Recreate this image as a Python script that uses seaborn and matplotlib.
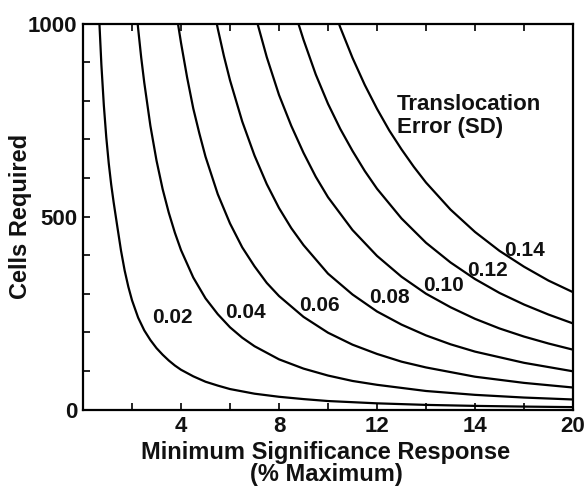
import matplotlib
matplotlib.use("Agg")
import matplotlib.pyplot as plt
import seaborn as sns
import pandas as pd

# ---- data ----
sd_labels = ["0.02", "0.04", "0.06", "0.08", "0.10", "0.12", "0.14"]

x_002 = [0.6, 0.67, 0.75, 0.85, 0.95, 1.05, 1.15, 1.25, 1.4, 1.55, 1.7, 1.85, 2.0, 2.25, 2.5, 2.75, 3.0, 3.25, 3.5, 3.75, 4.0, 4.5, 5.0, 5.5, 6.0, 7.0, 8.0, 9.0, 10.0, 12.0, 14.0, 16.0, 18.0, 20.0]
n_002 = [1110, 1000, 893, 788, 705, 638, 583, 537, 474, 412, 360, 318, 283, 238, 205, 180, 159, 142, 127, 114, 103, 86, 72, 62, 53, 41, 33, 27, 22, 16, 12, 9.4, 7.6, 6.2]

x_004 = [2.0, 2.125, 2.25, 2.375, 2.5, 2.75, 3.0, 3.25, 3.5, 3.75, 4.0, 4.5, 5.0, 5.5, 6.0, 6.5, 7.0, 8.0, 9.0, 10.0, 11.0, 12.0, 14.0, 16.0, 18.0, 20.0]
n_004 = [1168, 1071, 987, 912, 847, 735, 645, 571, 510, 458, 413, 342, 288, 247, 213, 186, 164, 130, 106, 88, 74, 64, 48, 38, 31, 26]

x_006 = [3.5, 3.75, 4.0, 4.25, 4.5, 4.75, 5.0, 5.5, 6.0, 6.5, 7.0, 7.5, 8.0, 9.0, 10.0, 11.0, 12.0, 13.0, 14.0, 16.0, 18.0, 20.0]
n_006 = [1170, 1050, 950, 860, 780, 715, 655, 558, 482, 420, 371, 328, 294, 240, 199, 168, 144, 124, 109, 85, 69, 57]

x_008 = [5.0, 5.25, 5.5, 5.75, 6.0, 6.5, 7.0, 7.5, 8.0, 8.5, 9.0, 10.0, 11.0, 12.0, 13.0, 14.0, 15.0, 16.0, 18.0, 20.0]
n_008 = [1154, 1066, 987, 916, 853, 746, 658, 584, 522, 470, 426, 352, 298, 254, 220, 192, 169, 150, 121, 99]

x_010 = [6.5, 6.75, 7.0, 7.5, 8.0, 8.5, 9.0, 9.5, 10.0, 11.0, 12.0, 13.0, 14.0, 15.0, 16.0, 17.0, 18.0, 19.0, 20.0]
n_010 = [1165, 1093, 1028, 913, 815, 735, 665, 603, 550, 465, 398, 344, 300, 265, 235, 210, 189, 171, 155]

x_012 = [8.0, 8.5, 9.0, 9.5, 10.0, 10.5, 11.0, 11.5, 12.0, 13.0, 14.0, 15.0, 16.0, 17.0, 18.0, 19.0, 20.0]
n_012 = [1174, 1058, 958, 868, 792, 727, 670, 618, 572, 495, 432, 381, 338, 302, 272, 246, 223]

x_014 = [9.5, 10.0, 10.5, 11.0, 11.5, 12.0, 12.5, 13.0, 13.5, 14.0, 15.0, 16.0, 17.0, 18.0, 19.0, 20.0]
n_014 = [1181, 1078, 990, 911, 841, 779, 723, 674, 629, 588, 518, 460, 411, 370, 334, 304]

# curve label positions (data coordinates)
label_x = [3.63, 6.65, 9.63, 12.49, 14.73, 16.53, 18.04]
label_y = [238, 252, 270, 289, 322, 361, 413]

x_tick_pos = [4, 8, 12, 16, 20]
x_tick_labels = ["4", "8", "12", "14", "20"]
x_minor = [2, 6, 10, 14, 18]
y_tick_pos = [0, 500, 1000]
y_tick_labels = ["0", "500", "1000"]
y_minor = [100, 200, 300, 400, 600, 700, 800, 900]

# ---- build long-form table ----
xs = [x_002, x_004, x_006, x_008, x_010, x_012, x_014]
ns = [n_002, n_004, n_006, n_008, n_010, n_012, n_014]
rows = []
for lab, xv, nv in zip(sd_labels, xs, ns):
    for a, b in zip(xv, nv):
        rows.append({"SD": lab, "x": a, "N": b})
df = pd.DataFrame(rows)

sns.set_theme(style="white")
plt.rcParams["font.family"] = ["Liberation Sans", "DejaVu Sans"]
plt.rcParams["font.weight"] = "bold"

fig = plt.figure(figsize=(5.85, 4.87), dpi=100)
ax = fig.add_axes([0.1419, 0.1591, 0.8376, 0.7926])

sns.lineplot(data=df, x="x", y="N", hue="SD", units="SD", estimator=None,
             palette=["black"] * len(sd_labels), legend=False, linewidth=1.6,
             sort=True, ax=ax)

ax.set_xlim(0, 20)
ax.set_ylim(0, 1000)

for lab, lx, ly in zip(sd_labels, label_x, label_y):
    ax.text(lx, ly, lab, ha="center", va="center", fontsize=15,
            fontweight="bold", color="#111111")

ax.text(12.82, 818, "Translocation\nError (SD)", ha="left", va="top",
        fontsize=16, fontweight="bold", color="#111111", linespacing=1.15)

ax.set_xticks(x_tick_pos)
ax.set_xticklabels(x_tick_labels)
ax.set_xticks(x_minor, minor=True)
ax.set_yticks(y_tick_pos)
ax.set_yticklabels(y_tick_labels)
ax.set_yticks(y_minor, minor=True)

ax.tick_params(axis="both", which="both", direction="in", length=5, width=1.2,
               color="black", top=True, bottom=True, left=True, right=False)
ax.tick_params(axis="x", which="major", labelsize=16, pad=5,
               labelcolor="#111111")
ax.tick_params(axis="y", which="major", labelsize=16, pad=4,
               labelcolor="#111111")
for t in ax.get_xticklabels() + ax.get_yticklabels():
    t.set_fontweight("bold")

for s in ax.spines.values():
    s.set_visible(True)
    s.set_color("black")
    s.set_linewidth(1.6)

ax.set_xlabel("")
ax.set_ylabel("Cells Required", fontsize=17, fontweight="bold",
              color="#111111")
ax.yaxis.set_label_coords(-0.104, 0.5)

# two-line x-axis title
fig.text(326 / 585, (487 - 459) / 487, "Minimum Significance Response",
         ha="center", va="baseline", fontsize=17, fontweight="bold",
         color="#111111")
fig.text(326 / 585, (487 - 481) / 487, "(% Maximum)",
         ha="center", va="baseline", fontsize=17, fontweight="bold",
         color="#111111")

fig.savefig("out.png", dpi=100)
